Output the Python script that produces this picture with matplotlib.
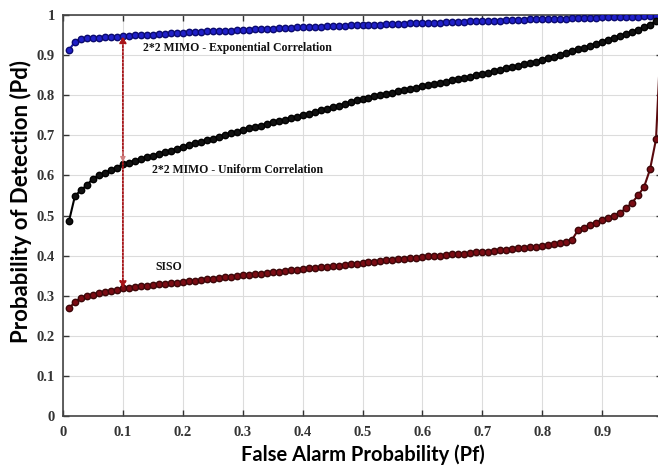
import numpy as np
import matplotlib
matplotlib.use("Agg")
from matplotlib import pyplot as plt

# false alarm probability grid (0.01 .. 1.00)
pf = np.linspace(0.01, 1.0, 100)

# 2*2 MIMO - exponential correlation
pd_exp = [0.913, 0.933, 0.941, 0.942, 0.943, 0.943, 0.944, 0.945, 0.946, 0.947,
          0.948, 0.949, 0.950, 0.950, 0.951, 0.952, 0.953, 0.954, 0.955, 0.956,
          0.957, 0.957, 0.958, 0.959, 0.959, 0.960, 0.961, 0.961, 0.962, 0.963,
          0.963, 0.964, 0.965, 0.965, 0.966, 0.967, 0.967, 0.968, 0.969, 0.970,
          0.970, 0.971, 0.971, 0.972, 0.972, 0.973, 0.973, 0.974, 0.974, 0.975,
          0.975, 0.976, 0.976, 0.977, 0.977, 0.978, 0.978, 0.979, 0.979, 0.980,
          0.980, 0.981, 0.981, 0.982, 0.982, 0.983, 0.983, 0.984, 0.984, 0.985,
          0.985, 0.986, 0.986, 0.987, 0.987, 0.988, 0.988, 0.989, 0.989, 0.990,
          0.990, 0.990, 0.991, 0.991, 0.992, 0.992, 0.992, 0.993, 0.993, 0.994,
          0.994, 0.994, 0.995, 0.995, 0.996, 0.996, 0.997, 0.997, 0.998, 0.999]

# 2*2 MIMO - uniform correlation
pd_uni = [0.486, 0.549, 0.563, 0.576, 0.592, 0.600, 0.607, 0.613, 0.619, 0.628,
          0.632, 0.636, 0.641, 0.645, 0.649, 0.654, 0.658, 0.662, 0.667, 0.671,
          0.675, 0.680, 0.684, 0.688, 0.692, 0.697, 0.701, 0.705, 0.709, 0.713,
          0.717, 0.721, 0.724, 0.728, 0.732, 0.735, 0.739, 0.743, 0.746, 0.750,
          0.754, 0.758, 0.762, 0.766, 0.770, 0.774, 0.778, 0.782, 0.787, 0.791,
          0.794, 0.797, 0.800, 0.803, 0.806, 0.810, 0.813, 0.816, 0.819, 0.822,
          0.825, 0.828, 0.831, 0.834, 0.837, 0.840, 0.843, 0.846, 0.850, 0.853,
          0.856, 0.860, 0.863, 0.867, 0.870, 0.874, 0.877, 0.881, 0.884, 0.888,
          0.892, 0.896, 0.900, 0.905, 0.909, 0.914, 0.918, 0.923, 0.928, 0.933,
          0.938, 0.943, 0.948, 0.953, 0.958, 0.963, 0.969, 0.976, 0.985, 0.998]

# SISO
pd_siso = [0.269, 0.284, 0.295, 0.299, 0.302, 0.306, 0.309, 0.312, 0.315, 0.318,
           0.320, 0.322, 0.323, 0.325, 0.326, 0.328, 0.329, 0.331, 0.332, 0.334,
           0.336, 0.337, 0.339, 0.341, 0.342, 0.344, 0.346, 0.347, 0.349, 0.351,
           0.352, 0.354, 0.355, 0.357, 0.358, 0.360, 0.361, 0.363, 0.364, 0.366,
           0.368, 0.369, 0.371, 0.372, 0.374, 0.375, 0.377, 0.379, 0.380, 0.382,
           0.383, 0.385, 0.386, 0.388, 0.389, 0.391, 0.392, 0.394, 0.395, 0.397,
           0.398, 0.399, 0.400, 0.402, 0.403, 0.404, 0.405, 0.406, 0.408, 0.409,
           0.410, 0.412, 0.413, 0.415, 0.416, 0.418, 0.419, 0.421, 0.422, 0.424,
           0.426, 0.428, 0.431, 0.434, 0.440, 0.464, 0.470, 0.476, 0.482, 0.489,
           0.494, 0.500, 0.507, 0.518, 0.532, 0.550, 0.571, 0.615, 0.690, 1.000]

xticks = [0, 0.1, 0.2, 0.3, 0.4, 0.5, 0.6, 0.7, 0.8, 0.9]
xticklabels = ["0", "0.1", "0.2", "0.3", "0.4", "0.5", "0.6", "0.7", "0.8", "0.9"]
yticks = [0, 0.1, 0.2, 0.3, 0.4, 0.5, 0.6, 0.7, 0.8, 0.9, 1]
yticklabels = ["0", "0.1", "0.2", "0.3", "0.4", "0.5", "0.6", "0.7", "0.8", "0.9", "1"]

fig = plt.figure(figsize=(6.58, 4.66), dpi=100)
# right edge of the axes runs slightly past the image, as in the original
ax = fig.add_axes([63 / 658, 50 / 466, 599 / 658, 401 / 466])

ax.plot(pf, pd_exp, color="#1a1aa8", lw=1.5, marker="o", ms=4.6,
        mfc="#2020c8", mec="#0a0a70", zorder=3)
ax.plot(pf, pd_uni, color="black", lw=1.5, marker="o", ms=4.6,
        mfc="#111111", mec="black", zorder=3)
ax.plot(pf, pd_siso, color="#5a0a0e", lw=1.5, marker="o", ms=4.6,
        mfc="#7a0c14", mec="#3c0608", zorder=3)

# dotted arrows at Pf = 0.1
arr = dict(arrowstyle="-|>", linestyle=(0, (1, 1)), color="#a81418", lw=1.3,
           mutation_scale=10, shrinkA=0, shrinkB=0)
ax.annotate("", xy=(0.1, 0.948), xytext=(0.1, 0.64), arrowprops=arr, zorder=4)
ax.annotate("", xy=(0.1, 0.318), xytext=(0.1, 0.64), arrowprops=arr, zorder=4)
ax.annotate("", xy=(0.1, 0.633), xytext=(0.1, 0.66),
            arrowprops=dict(arrowstyle="-|>", color="#d08080", lw=0.8,
                            mutation_scale=8, shrinkA=0, shrinkB=0), zorder=4)

lab = dict(fontfamily="Liberation Serif", fontweight="bold", fontsize=8.5,
           color="#111111")
ax.text(0.133, 0.918, "2*2 MIMO - Exponential Correlation", va="center", **lab)
ax.text(0.148, 0.613, "2*2 MIMO - Uniform Correlation", va="center", **lab)
ax.text(0.155, 0.372, "SISO", va="center", **lab)

ax.set_xlim(0, 1)
ax.set_ylim(0, 1)
ax.set_xticks(xticks)
ax.set_xticklabels(xticklabels)
ax.set_yticks(yticks)
ax.set_yticklabels(yticklabels)
for t in ax.get_xticklabels() + ax.get_yticklabels():
    t.set_fontfamily("Liberation Serif")
    t.set_fontweight("bold")
    t.set_fontsize(10.5)
    t.set_color("#222222")
ax.tick_params(direction="in", top=True, right=True, length=4, width=1,
               colors="#333333")
ax.tick_params(axis="x", pad=7)
ax.tick_params(axis="y", pad=6)
ax.grid(True, color="#dcdcdc", lw=0.8)
ax.set_axisbelow(True)
for s in ax.spines.values():
    s.set_color("#444444")
    s.set_linewidth(1.2)

ax.set_xlabel("False Alarm Probability (Pf)", fontfamily="Lato",
              fontweight="bold", fontsize=14.5, labelpad=4)
ax.set_ylabel("Probability of Detection (Pd)", fontfamily="Lato",
              fontweight="bold", fontsize=16)
ax.yaxis.set_label_coords(-0.052, 0.536)

fig.savefig("out.png", dpi=100)
